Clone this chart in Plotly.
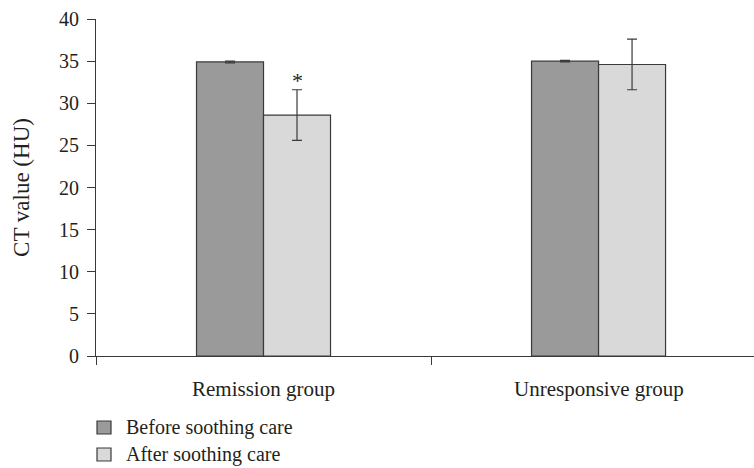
import plotly.graph_objects as go

# Mean CT values (HU) and standard deviations by group
groups = ["Remission group", "Unresponsive group"]
series_names = ["Before soothing care", "After soothing care"]
before_mean = [34.9, 35.0]
before_sd = [0.1, 0.1]
after_mean = [28.6, 34.6]
after_sd = [3.0, 3.0]
y_ticks = [0, 5, 10, 15, 20, 25, 30, 35, 40]

FONT = "Liberation Serif"
TXT = "#231f20"
EDGE = "#3a3a3a"
FILLS = ["#9a9a9a", "#d9d9d9"]
pos = list(range(len(groups)))

fig = go.Figure()
for name, mean, sd, fill in zip(series_names, [before_mean, after_mean],
                                [before_sd, after_sd], FILLS):
    fig.add_trace(go.Bar(
        x=pos, y=mean, name=name, showlegend=False,
        marker=dict(color=fill, line=dict(color=EDGE, width=1.2)),
        error_y=dict(type="data", array=sd, color=EDGE, thickness=1.2, width=5),
    ))

# Significance marker above the remission group's post-care bar
fig.add_annotation(x=0.1, y=after_mean[0] + after_sd[0], text="*", showarrow=False,
                   yanchor="bottom", yshift=-5, font=dict(family=FONT, size=22, color=TXT))

# Category names centred under each group
for i, g in enumerate(groups):
    fig.add_annotation(x=i, y=0, xref="x", yref="paper", text=g, showarrow=False,
                       yanchor="top", yshift=-19, font=dict(family=FONT, size=21, color=TXT))

# Legend below the axis: swatch + label per series (pixel offsets from the plot's bottom-left)
PLOT_W, PLOT_H = 658, 337
for k, (name, fill) in enumerate(zip(series_names, FILLS)):
    top = 65 + 27 * k          # px below the x axis
    x0, x1 = 1 / PLOT_W, 15 / PLOT_W
    y0, y1 = -top / PLOT_H, -(top + 13) / PLOT_H
    fig.add_shape(type="rect", xref="paper", yref="paper", x0=x0, x1=x1, y0=y0, y1=y1,
                  fillcolor=fill, line=dict(color=EDGE, width=1.2))
    fig.add_annotation(xref="paper", yref="paper", x=28 / PLOT_W, y=(y0 + y1) / 2,
                       text=name, showarrow=False, xanchor="left", yanchor="middle",
                       font=dict(family=FONT, size=20, color=TXT))

fig.update_layout(
    width=754, height=468,
    margin=dict(l=96, r=0, t=19, b=112, autoexpand=False),
    paper_bgcolor="white", plot_bgcolor="white",
    barmode="group", bargap=0.6, bargroupgap=0,
    font=dict(family=FONT, size=20, color=TXT),
    showlegend=False,
    xaxis=dict(range=[-0.5, 1.464], tickvals=[-0.5, 0.5, 1.5], ticktext=["", "", ""],
               ticks="outside", ticklen=8, tickcolor=EDGE, showline=True,
               linecolor=EDGE, linewidth=1.2, showgrid=False, zeroline=False),
    yaxis=dict(range=[0, 40], tickvals=y_ticks, ticks="outside", ticklen=8,
               tickcolor=EDGE, showline=True, linecolor=EDGE, linewidth=1.2,
               showgrid=False, zeroline=False, ticklabelstandoff=4,
               title=dict(text="CT value (HU)", standoff=22,
                          font=dict(family=FONT, size=23, color=TXT)),
               tickfont=dict(family=FONT, size=20, color=TXT)),
)

fig.write_html("out.html")
